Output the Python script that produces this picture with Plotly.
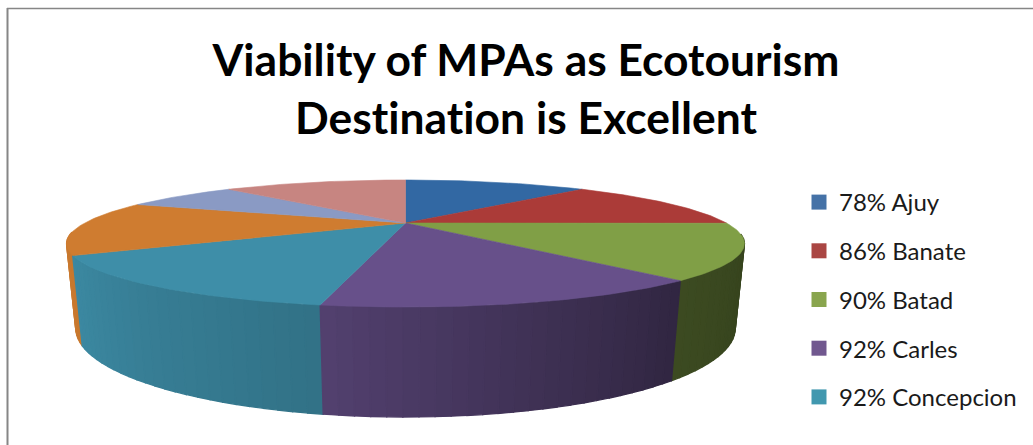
import numpy as np
import plotly.graph_objects as go

# ---- data ----
categories = ["78% Ajuy", "86% Banate", "90% Batad", "92% Carles", "92% Concepcion",
              "Slice 6", "Slice 7", "Slice 8"]
values = [78, 86, 90, 92, 92, 91, 47, 78]
legend_count = 5
top_colors = ["#3268A3", "#AB3B38", "#809F46", "#67508A", "#3E8EA8", "#CF7C30", "#8A9AC4", "#C78581"]
legend_colors = ["#4572A7", "#AA4643", "#89A54E", "#71588F", "#4198AF"]
title_text = "Viability of MPAs as Ecotourism<br>Destination is Excellent"

# ---- pie projection ----
W, H = 1033, 445
CX, CY = 405.5, 223.0
A, B, K, DROP, M = 320.8, 56.9, 0.323, 79.3, 0.025
shade_angle = [100, 109, 140, 165, 190, 240, 260]
shade_value = [0.42, 0.42, 0.47, 0.62, 0.80, 0.96, 1.0]


def project(theta_deg, r=1.0, z=0.0):
    t = np.radians(theta_deg)
    u, v = r * np.sin(t), r * np.cos(t)
    w = 1 + K * v + M * z
    return CX + A * u / w, CY + (-B * v + DROP * z) / w


def darken(hex_color, f):
    rgb = [int(hex_color[i:i + 2], 16) for i in (1, 3, 5)]
    return "rgb({},{},{})".format(*[int(round(c * f)) for c in rgb])


edges = np.concatenate([[0], np.cumsum(values)]) / sum(values) * 360.0
fig = go.Figure()


def poly(xs, ys, color, lw=0.6):
    fig.add_trace(go.Scatter(x=list(xs) + [xs[0]], y=list(ys) + [ys[0]], mode="lines", fill="toself",
                             fillcolor=color, line=dict(color=color, width=lw),
                             hoverinfo="skip", showlegend=False))


# side wall, back to front
strips = []
for i in range(len(values)):
    n = max(int((edges[i + 1] - edges[i]) / 2), 1)
    grid = np.linspace(edges[i], edges[i + 1], n + 1)
    for a0, a1 in zip(grid[:-1], grid[1:]):
        if 100 < (a0 + a1) / 2 < 262:
            strips.append((np.cos(np.radians((a0 + a1) / 2)), a0, a1, i))
for _, a0, a1, i in sorted(strips, key=lambda s: -s[0]):
    arc = np.linspace(a0, a1, 4)
    x0, y0 = project(arc, z=0)
    x1, y1 = project(arc[::-1], z=1)
    f = float(np.interp((a0 + a1) / 2, shade_angle, shade_value))
    poly(np.r_[x0, x1], np.r_[y0, y1], darken(top_colors[i], f), lw=1.3)

# top face
for i in range(len(values)):
    arc = np.arange(edges[i], edges[i + 1], 1.0)
    arc = np.r_[arc, edges[i + 1]]
    x, y = project(arc)
    poly(np.r_[CX, x], np.r_[CY, y], top_colors[i])

# legend
for i in range(legend_count):
    fig.add_trace(go.Scatter(x=[None], y=[None], mode="markers", name=categories[i],
                             legendgroup=categories[i],
                             marker=dict(symbol="square", size=15, color=legend_colors[i])))

fig.update_layout(
    width=W, height=H, autosize=False,
    margin=dict(l=0, r=0, t=0, b=0),
    paper_bgcolor="white", plot_bgcolor="white",
    xaxis=dict(range=[0, W], visible=False, fixedrange=True),
    yaxis=dict(range=[H, 0], visible=False, fixedrange=True),
    title=dict(text=title_text, x=526 / W, xanchor="center", y=0.829, yanchor="top",
               font=dict(family="Lato", size=44.4, color="#000000", weight="bold")),
    legend=dict(x=799 / W, xanchor="left", y=1 - 180 / H, yanchor="top",
                tracegroupgap=14.5, bgcolor="rgba(0,0,0,0)",
                font=dict(family="Lato", size=24, color="#1a1a1a")),
    shapes=[
        dict(type="line", xref="paper", yref="paper", x0=7.5 / W, x1=7.5 / W, y0=0, y1=1 - 8 / H,
             line=dict(color="#868686", width=2)),
        dict(type="line", xref="paper", yref="paper", x0=7 / W, x1=1, y0=1 - 8.5 / H, y1=1 - 8.5 / H,
             line=dict(color="#868686", width=1.5)),
    ],
)
page_css = ("document.body.style.margin='0';"
            "var s=document.createElement('style');"
            "s.textContent='svg text{font-variant-ligatures:none !important}';"
            "document.head.appendChild(s);")
fig.write_html("out.html", post_script=page_css, config=dict(displayModeBar=False))
